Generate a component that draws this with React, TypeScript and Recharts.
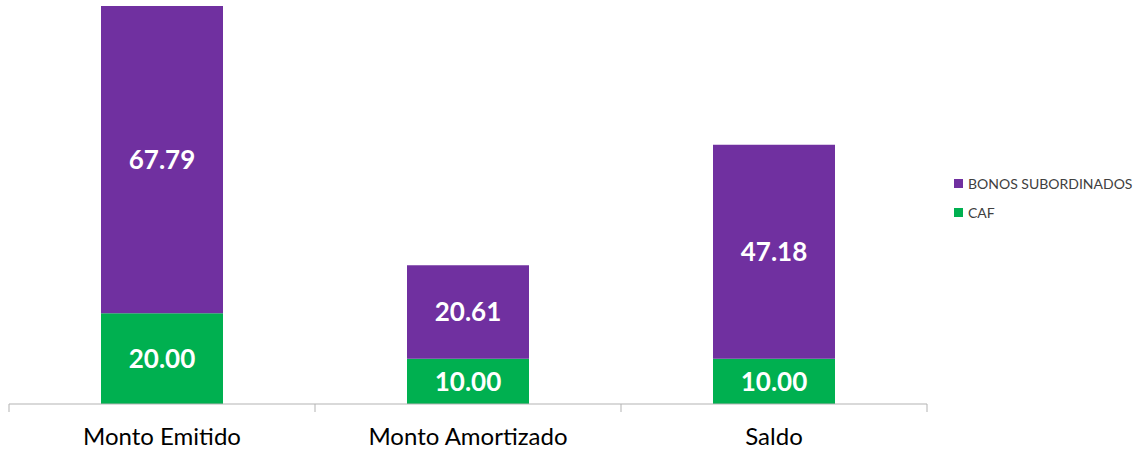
import { BarChart, Bar, XAxis, YAxis, LabelList } from "recharts";

const categories = ["Monto Emitido", "Monto Amortizado", "Saldo"];
const caf = [20.0, 10.0, 10.0];
const bonos = [67.79, 20.61, 47.18];

const seriesNames = { bonos: "BONOS SUBORDINADOS", caf: "CAF" };
const PURPLE = "#7030A0";
const GREEN = "#00B050";
const FONT = "Lato, 'Open Sans', sans-serif";

const data = categories.map((name, i) => ({ name, caf: caf[i], bonos: bonos[i] }));

const fmt = (v: number) => v.toFixed(2);

function Legend() {
  const items = [
    { label: seriesNames.bonos, color: PURPLE },
    { label: seriesNames.caf, color: GREEN },
  ];
  return (
    <div style={{ position: "absolute", left: 954, top: 169, fontFamily: FONT, fontSize: 14, color: "#404040" }}>
      {items.map((it) => (
        <div key={it.label} style={{ display: "flex", alignItems: "center", height: 29 }}>
          <span style={{ width: 9, height: 9, background: it.color, marginRight: 5, display: "inline-block" }} />
          <span>{it.label}</span>
        </div>
      ))}
    </div>
  );
}

export default function App() {
  return (
    <div style={{ position: "absolute", left: 0, top: 0, width: 1139, height: 451, background: "#fff" }}>
      <BarChart
        width={1139}
        height={451}
        data={data}
        margin={{ top: 5, right: 212, bottom: 0, left: 9 }}
        barSize={122}
      >
        <XAxis
          dataKey="name"
          height={47}
          axisLine={{ stroke: "#b3b3b3" }}
          tickLine={false}
          tick={{ fontSize: 24, fill: "#000", fontFamily: FONT }}
          tickMargin={18}
        />
        <YAxis hide domain={[0, 88]} />
        <Bar dataKey="caf" stackId="a" fill={GREEN} isAnimationActive={false}>
          <LabelList
            dataKey="caf"
            position="center"
            formatter={(v: any) => fmt(Number(v))}
            fill="#fff"
            style={{ fontSize: 26, fontWeight: 700, fontFamily: FONT }}
          />
        </Bar>
        <Bar dataKey="bonos" stackId="a" fill={PURPLE} isAnimationActive={false}>
          <LabelList
            dataKey="bonos"
            position="center"
            formatter={(v: any) => fmt(Number(v))}
            fill="#fff"
            style={{ fontSize: 26, fontWeight: 700, fontFamily: FONT }}
          />
        </Bar>
        {[9, 315, 621, 927].map((x) => (
          <line key={x} x1={x} x2={x} y1={404} y2={412} stroke="#b3b3b3" />
        ))}
      </BarChart>
      <Legend />
    </div>
  );
}
